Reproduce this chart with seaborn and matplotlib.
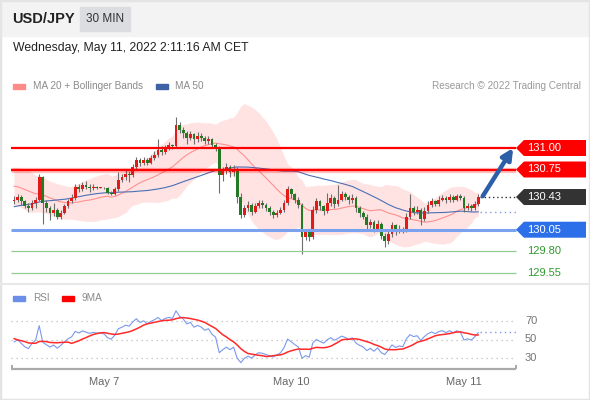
import numpy as np
import pandas as pd
import matplotlib.pyplot as plt
from matplotlib.patches import Polygon, Rectangle
import seaborn as sns

# previous session closes, only used to warm up MA 20 / MA 50 / RSI
warmup = [129.95, 130.00, 129.98, 130.04, 130.02, 130.06, 130.00, 129.96, 130.02, 130.06,
          130.10, 130.04, 130.01, 130.07, 130.12, 130.08, 130.04, 130.10, 130.14, 130.17,
          130.12, 130.20, 130.24, 130.22, 130.30, 130.34, 130.40, 130.37, 130.44, 130.48,
          130.60, 130.58, 130.66, 130.70, 130.64, 130.68, 130.72, 130.65, 130.60, 130.66,
          130.62, 130.55, 130.58, 130.50, 130.46, 130.48, 130.42, 130.45, 130.40, 130.38]

# 30 min candles (USD/JPY)
first_open = 130.38
closes = [130.40, 130.43, 130.38, 130.33, 130.30, 130.36, 130.40, 130.66, 130.36, 130.30,
          130.24, 130.28, 130.20, 130.25, 130.32, 130.38, 130.42, 130.55, 130.52, 130.57,
          130.55, 130.53, 130.55, 130.54, 130.54, 130.53, 130.48, 130.46, 130.52, 130.63,
          130.66, 130.70, 130.69, 130.78, 130.86, 130.82, 130.86, 130.83, 130.88, 130.92,
          130.98, 130.95, 131.00, 131.03, 131.02, 131.27, 131.21, 131.18, 131.12, 131.16,
          131.10, 131.14, 131.12, 131.08, 131.11, 131.04, 131.00, 130.69, 130.74, 130.78,
          130.72, 130.76, 130.43, 130.22, 130.30, 130.34, 130.26, 130.32, 130.36, 130.34,
          130.30, 130.26, 130.22, 130.25, 130.28, 130.36, 130.52, 130.46, 130.40, 130.34,
          129.97, 130.02, 129.96, 130.28, 130.38, 130.32, 130.27, 130.36, 130.42, 130.35,
          130.40, 130.46, 130.43, 130.39, 130.42, 130.30, 130.24, 130.20, 130.10, 130.14,
          130.06, 130.12, 129.98, 129.92, 130.00, 130.10, 130.03, 130.06, 130.04, 130.20,
          130.30, 130.26, 130.28, 130.18, 130.27, 130.34, 130.38, 130.35, 130.40, 130.42,
          130.39, 130.43, 130.40, 130.44, 130.42, 130.30, 130.32, 130.30, 130.35, 130.43]
highs = [130.44, 130.47, 130.45, 130.40, 130.36, 130.39, 130.43, 130.70, 130.68, 130.40,
         130.32, 130.36, 130.30, 130.28, 130.35, 130.41, 130.46, 130.58, 130.58, 130.60,
         130.62, 130.58, 130.58, 130.56, 130.55, 130.55, 130.55, 130.50, 130.55, 130.72,
         130.70, 130.74, 130.73, 130.81, 130.90, 130.88, 130.89, 130.88, 130.92, 130.96,
         131.10, 131.02, 131.04, 131.07, 131.05, 131.36, 131.30, 131.24, 131.20, 131.20,
         131.18, 131.19, 131.17, 131.14, 131.14, 131.12, 131.06, 131.02, 130.78, 130.82,
         130.80, 130.80, 130.78, 130.48, 130.34, 130.38, 130.36, 130.36, 130.40, 130.39,
         130.36, 130.32, 130.28, 130.28, 130.31, 130.40, 130.56, 130.54, 130.48, 130.43,
         130.36, 130.06, 130.04, 130.33, 130.42, 130.40, 130.34, 130.48, 130.46, 130.44,
         130.57, 130.50, 130.49, 130.45, 130.46, 130.44, 130.33, 130.27, 130.23, 130.18,
         130.16, 130.16, 130.14, 130.01, 130.05, 130.14, 130.12, 130.10, 130.08, 130.24,
         130.47, 130.33, 130.32, 130.30, 130.31, 130.38, 130.42, 130.40, 130.44, 130.45,
         130.44, 130.46, 130.45, 130.46, 130.46, 130.44, 130.36, 130.35, 130.38, 130.47]
lows = [130.35, 130.37, 130.34, 130.30, 130.26, 130.28, 130.30, 130.38, 130.12, 130.26,
        130.16, 130.21, 130.17, 130.17, 130.23, 130.30, 130.36, 130.40, 130.49, 130.50,
        130.52, 130.49, 130.51, 130.52, 130.53, 130.52, 130.46, 130.45, 130.45, 130.50,
        130.60, 130.63, 130.60, 130.66, 130.76, 130.79, 130.80, 130.80, 130.81, 130.86,
        130.90, 130.92, 130.93, 130.98, 130.99, 131.00, 131.18, 131.12, 131.05, 131.09,
        131.05, 131.07, 131.08, 131.05, 131.05, 131.00, 130.96, 130.48, 130.62, 130.70,
        130.66, 130.68, 130.36, 130.19, 130.20, 130.27, 130.22, 130.24, 130.30, 130.30,
        130.27, 130.22, 130.19, 130.20, 130.23, 130.26, 130.34, 130.42, 130.36, 130.30,
        129.77, 129.93, 129.92, 129.94, 130.25, 130.28, 130.22, 130.25, 130.33, 130.30,
        130.33, 130.38, 130.40, 130.35, 130.36, 130.26, 130.20, 130.17, 130.06, 130.07,
        130.02, 130.04, 129.94, 129.85, 129.88, 129.97, 129.99, 130.01, 130.01, 130.02,
        130.18, 130.22, 130.23, 130.10, 130.15, 130.25, 130.31, 130.32, 130.33, 130.38,
        130.36, 130.37, 130.37, 130.38, 130.39, 130.26, 130.28, 130.27, 130.28, 130.33]

resistances = [131.00, 130.75]
support = 130.05
minor_supports = [129.80, 129.55]
tick_pos = [25, 77, 125]
tick_labels = ['May 7', 'May 10', 'May 11']
rsi_lines = [30, 50, 70]

n = len(closes)
x = np.arange(n)
full = pd.Series(warmup + closes)
ma20 = full.rolling(20).mean().iloc[-n:].values
sd20 = full.rolling(20).std(ddof=0).iloc[-n:].values
ma50 = full.rolling(50).mean().iloc[-n:].values
upper = ma20 + 2 * sd20
lower = ma20 - 2 * sd20

delta = full.diff()
gain = delta.clip(lower=0).ewm(alpha=1 / 14, adjust=False).mean()
loss = (-delta.clip(upper=0)).ewm(alpha=1 / 14, adjust=False).mean()
rsi_full = 100 - 100 / (1 + gain / loss)
rsi = rsi_full.iloc[-n:].values
rsi_ma = rsi_full.rolling(9).mean().iloc[-n:].values

sns.set_theme(style='white')
plt.rcParams['font.family'] = ['Liberation Sans', 'DejaVu Sans']

W, H = 590, 400
fig = plt.figure(figsize=(W / 100, H / 100), dpi=100)
fig.patch.set_facecolor('white')

def fx(px):
    return px / W

def fy(py):
    return 1 - py / H

# header band
fig.patches.append(Rectangle((0, fy(36)), 1, 36 / H, transform=fig.transFigure,
                             color='#f3f3f3', zorder=0))
fig.patches.append(Rectangle((fx(80), fy(31)), 50 / W, 24 / H, transform=fig.transFigure,
                             color='#dcdde1', zorder=1))
fig.text(fx(12), fy(19), 'USD/JPY', fontsize=10.5, fontweight='bold', color='#222222', va='center')
fig.text(fx(105), fy(19), '30 MIN', fontsize=8.5, color='#333333', va='center', ha='center')
fig.text(fx(13), fy(48), 'Wednesday, May 11, 2022 2:11:16 AM CET', fontsize=8.8,
         color='#222222', va='center')

# legends
def swatch(px, py, col):
    fig.patches.append(Rectangle((fx(px), fy(py + 2.5)), 12 / W, 5 / H,
                                 transform=fig.transFigure, color=col))

swatch(13, 86, '#ff8a8a')
fig.text(fx(33), fy(86), 'MA 20 + Bollinger Bands', fontsize=7.2, color='#8a8a8a', va='center')
swatch(156, 86, '#3d62a6')
fig.text(fx(175), fy(86), 'MA 50', fontsize=7.2, color='#8a8a8a', va='center')
fig.text(fx(581), fy(86), 'Research © 2022 Trading Central', fontsize=7.2, color='#9a9a9a',
         va='center', ha='right')
swatch(13, 298, '#6b8ee8')
fig.text(fx(33), fy(298), 'RSI', fontsize=7.2, color='#8a8a8a', va='center')
swatch(62, 298, '#ff0000')
fig.text(fx(82), fy(298), '9MA', fontsize=7.2, color='#8a8a8a', va='center')

# separator and frame
fig.add_artist(plt.Line2D([0, 1], [fy(284), fy(284)], transform=fig.transFigure,
                          color='#e8e8e8', lw=1.5))
fig.patches.append(Rectangle((0, 0), 1, 1, transform=fig.transFigure, fill=False,
                             edgecolor='#e4e4e4', lw=2.5))

x_lo = (11 - 14) / 3.6
x_hi = (586 - 14) / 3.6
x_end = (516 - 14) / 3.6

# ---- price panel ----
ax = fig.add_axes([fx(11), fy(282), fx(586) - fx(11), (282 - 95) / H])
ax.set_xlim(x_lo, x_hi)
ax.set_ylim(131 - (282 - 148) / 86, 131 + (148 - 95) / 86)
ax.axis('off')

ax.fill_between(x, lower, upper, color='#ffe3e3', lw=0, zorder=1)
sns.lineplot(x=x, y=ma20, ax=ax, color='#ff8f8f', lw=0.8, zorder=2)
sns.lineplot(x=x, y=ma50, ax=ax, color='#4a6fb5', lw=0.8, zorder=2)

opens = np.array([first_open] + closes[:-1])
c = np.array(closes)
body = c - opens
body[np.abs(body) < 0.005] = 0.01
ax.vlines(x, lows, highs, color='#6e6e6e', lw=0.8, zorder=3)
ax.bar(x, body, bottom=opens, width=0.8, lw=0,
       color=np.where(c >= opens, '#e31a1a', '#247a24'), zorder=4)

ax.hlines(resistances[1], x_lo, x_end, color='#ff0000', lw=3.8, alpha=0.25, zorder=5)
ax.hlines(resistances, x_lo, x_end, color='#ff0000', lw=1.6, zorder=5)
ax.hlines(support, x_lo, x_end, color='#7aa2ee', lw=2.2, zorder=5)
ax.hlines(minor_supports, x_lo, x_end, color='#93cc93', lw=0.9, zorder=5)
ax.hlines(c[-1], n - 0.5, x_end, color='#333333', lw=1, linestyles=(0, (1, 2)), zorder=5)
ax.hlines(ma50[-1], n - 0.5, x_end, color='#7d9ce0', lw=1, linestyles=(0, (1, 2.5)), zorder=5)

def tag(level, col):
    h = 0.093
    pts = [(x_end, level), (x_end + 2.2, level + h), (x_hi, level + h),
           (x_hi, level - h), (x_end + 2.2, level - h)]
    ax.add_patch(Polygon(pts, closed=True, color=col, lw=0, zorder=6, clip_on=False))
    ax.text(x_end + 3.0, level, f'{level:.2f}', color='white', fontsize=8,
            va='center', ha='left', zorder=7)

for lv in resistances:
    tag(lv, '#ff0000')
tag(support, '#2c6fe8')
tag(c[-1], '#333333')
for lv in minor_supports:
    ax.text(x_end + 3.0, lv, f'{lv:.2f}', color='#2f9a2f', fontsize=8, va='center', ha='left')

ax.annotate('', xy=(x_end - 0.8, resistances[0]), xytext=(n + 0.2, c[-1] + 0.01),
            arrowprops=dict(arrowstyle='-|>', lw=3.2, color='#2d5ea8', mutation_scale=16,
                            shrinkA=0, shrinkB=0), zorder=8)

# ---- RSI panel ----
ax2 = fig.add_axes([fx(11), fy(372), fx(586) - fx(11), (372 - 303) / H])
ax2.set_xlim(x_lo, x_hi)
ax2.set_ylim(30 - (372 - 358) / 0.925, 70 + (321 - 303) / 0.925)
ax2.axis('off')

ax2.hlines(rsi_lines, x_lo, x_end, color='#bdbdbd', lw=0.9, linestyles=(0, (1, 3)))
for lv in rsi_lines:
    ax2.text(x_end + 2.5, lv, str(lv), color='#777777', fontsize=8, va='center', ha='left')
sns.lineplot(x=x, y=rsi, ax=ax2, color='#7b98ec', lw=0.8, zorder=3)
sns.lineplot(x=x, y=rsi_ma, ax=ax2, color='#ff2a2a', lw=1.1, zorder=4)
ax2.hlines(rsi[-1], n - 0.5, x_end, color='#7b98ec', lw=1, linestyles=(0, (1, 2.5)))

base = 30 - (369 - 358) / 0.925
ax2.hlines(base, x_lo, x_end, color='#aaaaaa', lw=1.6, clip_on=False)
ax2.vlines([x_lo + 0.2, x_end], base, base + 4, color='#aaaaaa', lw=1.4, clip_on=False)
for p, lab in zip(tick_pos, tick_labels):
    ax2.text(p, base - 14.5, lab, color='#666666', fontsize=8, ha='center', va='center',
             clip_on=False)

fig.savefig('out.png', dpi=100)
